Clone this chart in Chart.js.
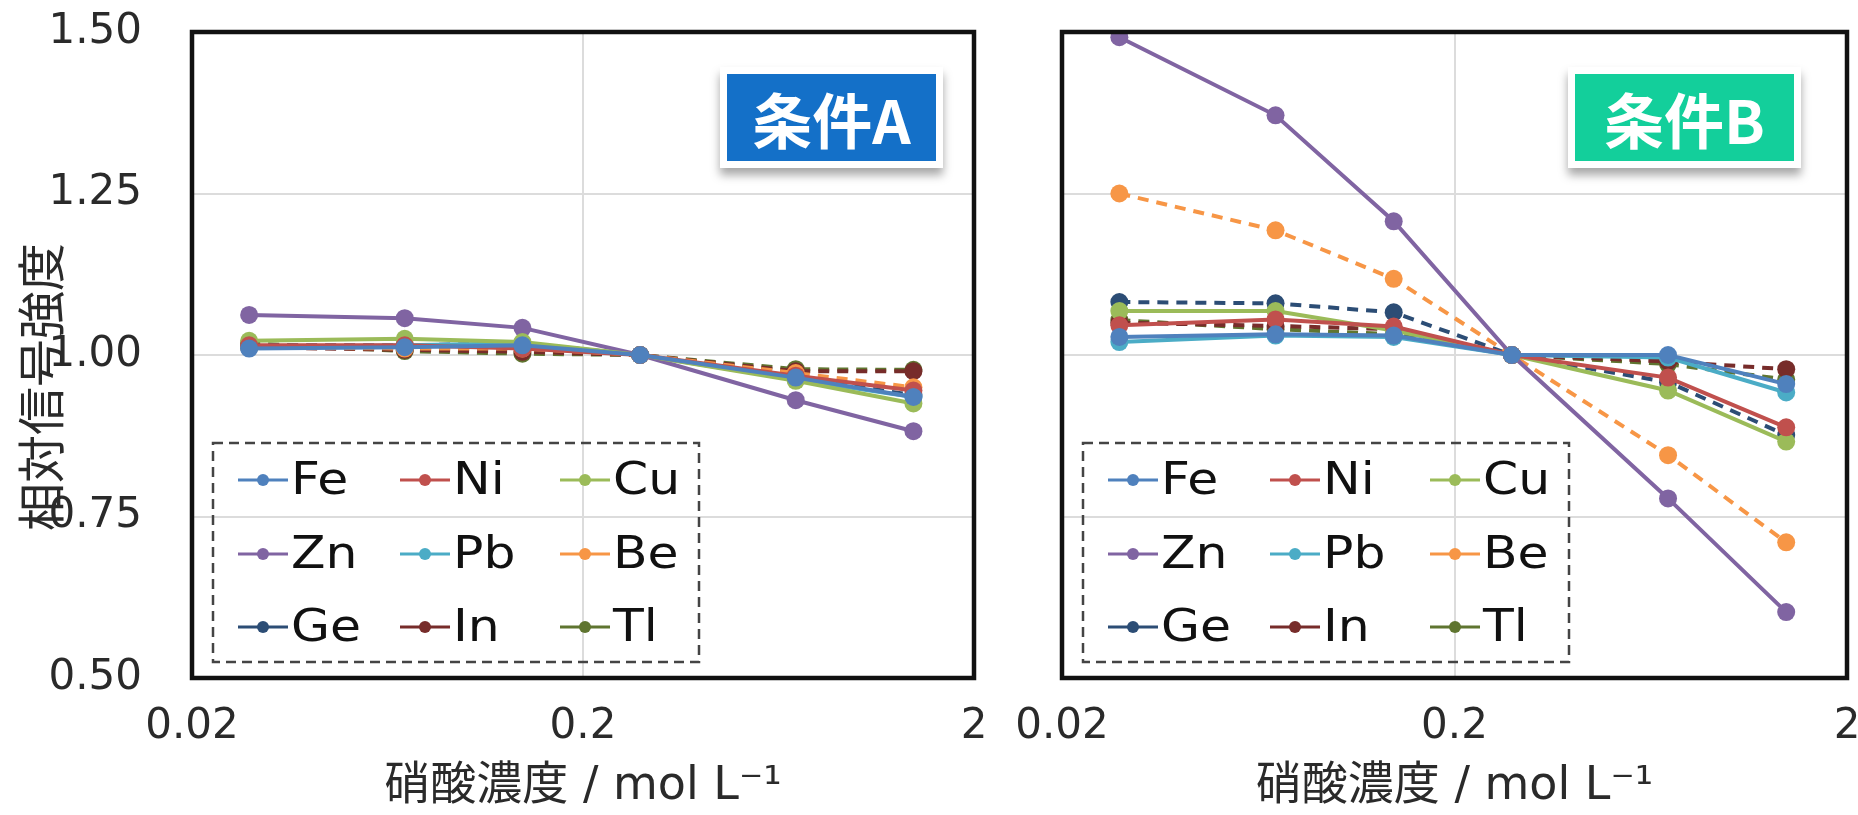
<!DOCTYPE html>
<html>
<head>
<meta charset="utf-8">
<script src="https://cdn.jsdelivr.net/npm/chart.js@4.4.1/dist/chart.umd.min.js"></script>
<style>
  html, body { margin: 0; padding: 0; background: #fff; }
  body { width: 1858px; height: 815px; position: relative; overflow: hidden; }
  canvas { position: absolute; top: 0; }
  #cA { left: 0; }
  #cB { left: 1000px; }
  .tag {
    position: absolute; box-sizing: border-box; height: 101px;
    border: 7px solid #fff; box-shadow: 0 7px 9px rgba(0,0,0,0.35);
    color: #fff; font: bold 60px "Noto Sans CJK JP", sans-serif;
    display: flex; align-items: center; justify-content: center;
  }
  #tagA { left: 720px; top: 67px; width: 223px; background: #1470c8; }
  #tagB { left: 1568px; top: 67px; width: 233px; background: #13cf9b; }
</style>
</head>
<body>
<canvas id="cA" width="1000" height="815"></canvas>
<canvas id="cB" width="858" height="815"></canvas>
<div class="tag" id="tagA">条件A</div>
<div class="tag" id="tagB">条件B</div>
<script>
// 硝酸濃度 (mol/L)
const conc = [0.028, 0.07, 0.14, 0.28, 0.7, 1.4];
const elements = ['Fe', 'Ni', 'Cu', 'Zn', 'Pb', 'Be', 'Ge', 'In', 'Tl'];
const colors = ['#4F81BD', '#C0504D', '#9BBB59', '#8064A2', '#4BACC6', '#F79646', '#2C4D75', '#772C2A', '#5F7530'];
const dashed = [false, false, false, false, false, true, true, true, true];

// 条件A
const aFe = [1.010, 1.012, 1.015, 1.000, 0.965, 0.935];
const aNi = [1.015, 1.015, 1.010, 1.000, 0.968, 0.945];
const aCu = [1.022, 1.025, 1.020, 1.000, 0.960, 0.925];
const aZn = [1.062, 1.057, 1.042, 1.000, 0.930, 0.882];
const aPb = [1.012, 1.015, 1.018, 1.000, 0.962, 0.935];
const aBe = [1.012, 1.010, 1.010, 1.000, 0.972, 0.950];
const aGe = [1.015, 1.015, 1.018, 1.000, 0.965, 0.938];
const aIn = [1.012, 1.008, 1.005, 1.000, 0.975, 0.975];
const aTl = [1.018, 1.006, 1.002, 1.000, 0.978, 0.977];

// 条件B
const bFe = [1.028, 1.032, 1.030, 1.000, 1.000, 0.955];
const bNi = [1.046, 1.055, 1.044, 1.000, 0.965, 0.888];
const bCu = [1.068, 1.068, 1.038, 1.000, 0.945, 0.866];
const bZn = [1.492, 1.371, 1.207, 1.000, 0.778, 0.602];
const bPb = [1.020, 1.030, 1.028, 1.000, 0.996, 0.942];
const bBe = [1.250, 1.193, 1.118, 1.000, 0.845, 0.710];
const bGe = [1.082, 1.080, 1.066, 1.000, 0.958, 0.876];
const bIn = [1.050, 1.045, 1.040, 1.000, 0.990, 0.978];
const bTl = [1.054, 1.040, 1.032, 1.000, 0.986, 0.962];

const seriesA = [aFe, aNi, aCu, aZn, aPb, aBe, aGe, aIn, aTl];
const seriesB = [bFe, bNi, bCu, bZn, bPb, bBe, bGe, bIn, bTl];

const xTicks = [0.02, 0.2, 2];
const xTickLabels = ['0.02', '0.2', '2'];
const yTicks = [0.5, 0.75, 1.0, 1.25, 1.5];

const xTitle = '硝酸濃度 / mol L⁻¹';
const yTitle = '相対信号強度';

const latin = "'DejaVu Sans', 'Noto Sans CJK JP', sans-serif";
const textColor = '#2a2a2a';
const gridColor = '#dcdcdc';

// 枠線 + 凡例 + 縦軸タイトル
const framePlugin = {
  id: 'frame',
  afterDraw(chart) {
    const ctx = chart.ctx;
    const a = chart.chartArea;
    ctx.save();
    // 凡例
    const bx = a.left + 21, by = 443, bw = 486, bh = 219;
    ctx.setLineDash([10, 6]);
    ctx.lineWidth = 2.5;
    ctx.strokeStyle = '#444';
    ctx.strokeRect(bx, by, bw, bh);
    ctx.setLineDash([]);
    const colX = [50, 212, 372];
    const rowY = [37, 111, 184];
    ctx.font = '45px ' + latin;
    ctx.textBaseline = 'middle';
    chart.data.datasets.forEach((ds, i) => {
      const cx = bx + colX[i % 3];
      const cy = by + rowY[Math.floor(i / 3)];
      ctx.strokeStyle = ds.borderColor;
      ctx.lineWidth = 3;
      ctx.beginPath();
      ctx.moveTo(cx - 25, cy);
      ctx.lineTo(cx + 25, cy);
      ctx.stroke();
      ctx.fillStyle = ds.borderColor;
      ctx.beginPath();
      ctx.arc(cx, cy, 6, 0, Math.PI * 2);
      ctx.fill();
      ctx.save();
      ctx.translate(cx + 28, cy + 2);
      ctx.scale(1.12, 1);
      ctx.fillStyle = '#111';
      ctx.fillText(ds.label, 0, 0);
      ctx.restore();
    });
    // 枠
    ctx.strokeStyle = '#111';
    ctx.lineWidth = 4.5;
    ctx.strokeRect(a.left, a.top, a.right - a.left, a.bottom - a.top);
    if (chart.options.yTitleOn) {
      ctx.translate(41, 387);
      ctx.rotate(-Math.PI / 2);
      ctx.font = "48px 'Noto Sans CJK JP', sans-serif";
      ctx.fillStyle = textColor;
      ctx.textAlign = 'center';
      ctx.textBaseline = 'middle';
      ctx.fillText(yTitle, 0, 0);
    }
    ctx.restore();
  }
};

function makeChart(id, series, yWidth, padRight, showY) {
  const datasets = elements.map((el, i) => ({
    label: el,
    data: conc.map((c, j) => ({ x: c, y: series[i][j] })),
    borderColor: colors[i],
    backgroundColor: colors[i],
    borderWidth: 4,
    borderDash: dashed[i] ? [11, 8] : [],
    pointRadius: 9,
    pointBorderWidth: 0,
    tension: 0
  }));
  return new Chart(document.getElementById(id), {
    type: 'line',
    data: { datasets },
    plugins: [framePlugin],
    options: {
      responsive: false,
      animation: false,
      yTitleOn: showY,
      layout: { padding: { top: 32, right: padRight, bottom: 0, left: 0 } },
      plugins: { legend: { display: false }, tooltip: { enabled: false } },
      scales: {
        x: {
          type: 'logarithmic',
          min: 0.02,
          max: 2,
          afterBuildTicks: s => { s.ticks = xTicks.map(v => ({ value: v })); },
          afterFit: s => { s.height = 137; s.paddingLeft = 0; s.paddingRight = 0; },
          ticks: {
            callback: v => xTickLabels[xTicks.indexOf(v)] ?? '',
            font: { family: latin, size: 42 },
            color: textColor,
            padding: 24,
            maxRotation: 0,
            autoSkip: false
          },
          grid: { color: gridColor, lineWidth: 2, drawTicks: false },
          border: { display: false },
          title: {
            display: true,
            text: xTitle,
            font: { family: latin, size: 46 },
            color: textColor,
            padding: { top: 0, bottom: 0 }
          }
        },
        y: {
          min: 0.5,
          max: 1.5,
          afterBuildTicks: s => { s.ticks = yTicks.map(v => ({ value: v })); },
          afterFit: s => { s.width = yWidth; s.paddingTop = 0; s.paddingBottom = 0; },
          ticks: {
            display: showY,
            callback: v => v.toFixed(2),
            font: { family: latin, size: 42 },
            color: textColor,
            padding: 50
          },
          grid: { color: gridColor, lineWidth: 2, drawTicks: false },
          border: { display: false }
        }
      }
    }
  });
}

makeChart('cA', seriesA, 192, 26, true);
makeChart('cB', seriesB, 62, 11, false);
</script>
</body>
</html>
